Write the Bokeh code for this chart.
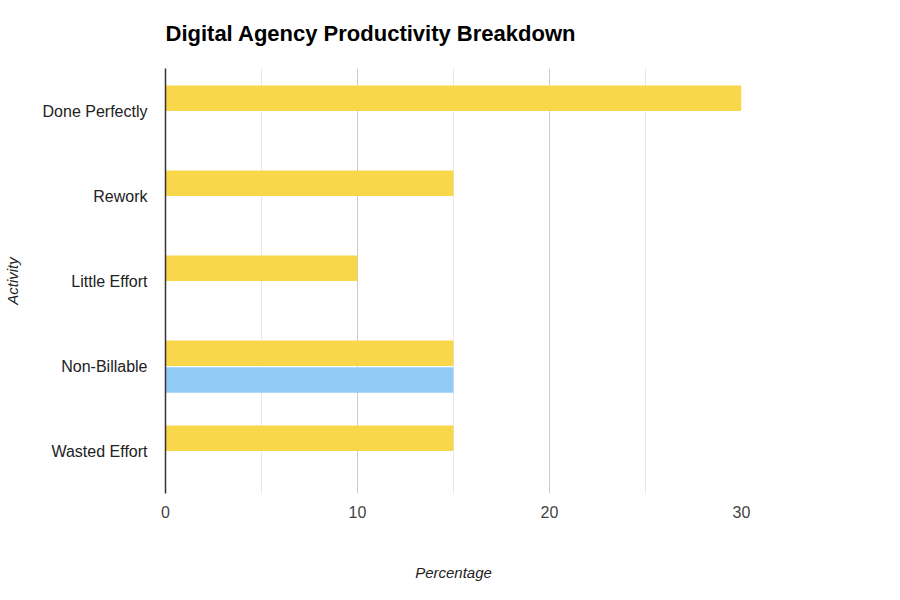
from bokeh.plotting import figure
from bokeh.models import FactorRange, Range1d, ColumnDataSource, FixedTicker
from bokeh.transform import dodge
from bokeh.embed import file_html
from bokeh.resources import INLINE

categories = ["Done Perfectly", "Rework", "Little Effort", "Non-Billable", "Wasted Effort"]
series_a = [30, 15, 10, 15, 15]   # yellow series
series_b = [0, 0, 0, 15, 0]       # blue series
x_ticks = [0, 10, 20, 30]

YELLOW = "#F9D74A"
BLUE = "#93CBF7"
FONT = "Liberation Sans"

source = ColumnDataSource(dict(cat=categories, a=series_a, b=series_b))

p = figure(
    width=900, height=600,
    y_range=FactorRange(*reversed(categories)),
    x_range=Range1d(0, 30),
    output_backend="svg", toolbar_location=None,
    min_border_left=165, min_border_right=159,
    min_border_top=68, min_border_bottom=107,
    title="Digital Agency Productivity Breakdown",
)
p.outline_line_color = None
p.background_fill_color = "white"
p.border_fill_color = "white"

p.hbar(y=dodge("cat", 0.15, range=p.y_range), right="a", left=0, height=0.3,
       source=source, fill_color=YELLOW, line_color=None)
p.hbar(y=dodge("cat", -0.165, range=p.y_range), right="b", left=0, height=0.3,
       source=source, fill_color=BLUE, line_color=None)

# title
p.title.text_font = FONT
p.title.text_font_size = "22px"
p.title.text_font_style = "bold"
p.title.text_color = "#000000"
p.title.align = "left"
p.title.standoff = 41
p.title.vertical_align = "top"

# x axis
p.xaxis.ticker = FixedTicker(ticks=x_ticks, minor_ticks=[5, 15, 25])
p.xaxis.axis_line_color = None
p.xaxis.major_tick_line_color = None
p.xaxis.minor_tick_line_color = None
p.xaxis.major_label_text_font = FONT
p.xaxis.major_label_text_font_size = "16px"
p.xaxis.major_label_text_color = "#444444"
p.xaxis.major_label_standoff = 6
p.xaxis.axis_label = "Percentage"
p.xaxis.axis_label_text_font = FONT
p.xaxis.axis_label_text_font_size = "15px"
p.xaxis.axis_label_text_font_style = "italic"
p.xaxis.axis_label_text_color = "#222222"
p.xaxis.axis_label_standoff = 43

# y axis
p.yaxis.axis_line_color = "#333333"
p.yaxis.axis_line_width = 1.5
p.yaxis.major_tick_line_color = None
p.yaxis.minor_tick_line_color = None
p.yaxis.major_label_text_font = FONT
p.yaxis.major_label_text_font_size = "16px"
p.yaxis.major_label_text_color = "#222222"
p.yaxis.major_label_standoff = 12
p.yaxis.axis_label = "Activity"
p.yaxis.axis_label_text_font = FONT
p.yaxis.axis_label_text_font_size = "15px"
p.yaxis.axis_label_text_font_style = "italic"
p.yaxis.axis_label_text_color = "#222222"
p.yaxis.axis_label_standoff = 19

# grids
p.ygrid.grid_line_color = None
p.xgrid.grid_line_color = "#CCCCCC"
p.xgrid.grid_line_width = 1
p.xgrid.minor_grid_line_color = "#E8E8E8"
p.xgrid.minor_grid_line_width = 1

open("out.html", "w").write(file_html(p, INLINE))
